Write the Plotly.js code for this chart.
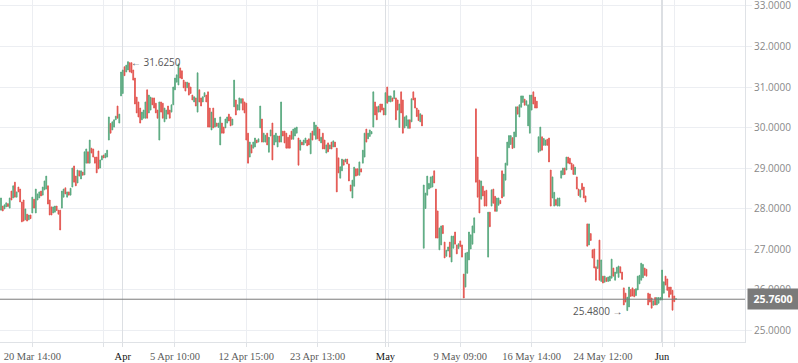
<!DOCTYPE html>
<html>
<head>
<meta charset="utf-8">
<script src="https://cdn.plot.ly/plotly-3.0.1.min.js"></script>
<style>html,body{margin:0;padding:0;background:#fff;}#chart{width:798px;height:363px;}</style>
</head>
<body>
<div id="chart"></div>
<script>
// Open / close of each bar (oldest first)
const openPrices = [
27.96,28.06,27.99,28.04,28.12,28.01,28.43,28.26,28.65,28.28,28.53,28.48,28.16,28.21,27.72,27.86,27.72,27.84,27.89,28.23,
27.89,28.21,28.26,28.43,28.33,28.46,28.48,28.56,28.21,28.04,27.89,27.91,28.06,27.96,27.96,28.01,28.28,28.51,28.28,28.41,
28.33,28.53,29.05,28.80,28.63,28.93,28.73,28.90,28.83,29.12,29.40,29.12,29.49,29.47,29.27,29.27,29.42,29.00,29.20,29.32,
29.25,29.27,
29.69,30.10,29.94,30.01,30.19,30.53,30.11,30.78,30.84,31.50,31.37,31.42,31.60,31.60,31.42,31.22,30.75,30.63,30.48,30.19,
30.23,30.23,30.93,30.36,30.43,30.73,30.73,30.60,30.43,29.69,30.63,30.60,30.14,30.21,30.53,30.43,30.38,30.56,30.93,31.12,
31.05,31.47,31.40,31.17,31.12,30.98,31.10,31.00,30.80,30.63,30.73,30.38,30.93,30.73,30.63,30.76,30.80,30.88,30.48,29.94,
30.48,30.01,30.11,30.00,29.57,30.11,30.01,29.99,30.11,30.33,30.26,30.06,
30.51,30.68,30.43,30.43,30.60,30.71,30.63,30.60,29.86,29.27,29.57,29.49,29.52,29.69,29.64,29.99,30.21,29.64,29.64,29.86,
29.39,29.79,30.11,29.57,29.64,29.52,29.79,29.64,29.91,29.91,29.86,29.76,29.81,29.91,29.71,29.79,29.86,29.74,29.44,29.64,
29.57,29.62,29.69,29.72,29.35,29.91,29.81,29.71,30.01,29.96,29.62,29.86,29.69,29.37,29.62,29.47,29.64,29.52,29.64,29.49,
29.25,28.75,28.93,29.20,29.15,29.22,29.10,28.58,28.26,28.55,28.98,28.98,28.82,28.98,29.12,
29.27,29.96,29.72,29.78,29.84,30.01,30.63,30.51,30.38,30.58,30.58,30.48,30.31,31.00,30.64,30.63,30.73,30.71,
30.73,30.68,30.00,30.88,30.68,29.99,30.04,29.98,30.19,30.14,30.88,30.73,30.48,30.43,30.14,30.31,
27.02,28.00,28.33,28.48,28.51,28.53,28.93,28.48,27.94,26.98,27.10,27.58,27.17,26.82,26.95,27.17,26.68,27.02,27.42,27.10,27.01,
27.20,27.10,26.38,26.06,26.40,26.73,27.00,27.12,27.40,30.46,29.27,28.70,28.23,28.55,28.43,28.45,26.80,27.91,28.06,28.48,
28.30,27.93,28.08,28.20,28.93,28.30,28.70,29.07,29.50,29.58,29.75,29.50,29.77,30.51,30.26,30.50,30.62,30.70,30.55,30.04,29.86,30.43,
30.88,30.75,30.65,29.39,29.42,29.77,29.56,29.56,29.71,29.74,28.95,28.26,28.06,28.22,28.06,28.06,28.75,28.83,29.00,
28.95,29.27,29.24,29.12,29.08,28.84,28.78,28.48,28.28,28.62,28.53,28.31,27.62,27.10,27.38,26.98,27.00,26.56,26.52,27.22,
26.20,26.33,26.18,26.29,26.20,26.21,26.28,26.53,26.23,26.40,26.30,26.56,26.43,26.04,25.91,25.48,25.57,26.00,26.04,26.00,
25.85,25.99,26.14,26.23,26.29,26.53,26.50,25.91,25.89,25.79,25.61,25.80,25.62,25.66,25.74,25.74,25.91,26.33,26.26,26.06,
26.06,25.98,25.84,25.76
];
const closePrices = [
28.26,27.94,28.09,28.14,28.05,28.26,28.21,28.56,28.28,28.41,28.41,28.16,27.67,27.69,27.99,27.69,27.84,27.75,28.28,28.01,
28.48,28.36,28.41,28.31,28.53,28.68,28.80,28.11,27.84,27.84,28.04,28.06,27.95,27.86,27.47,28.43,28.48,28.36,28.41,28.33,
28.50,29.00,28.65,28.56,28.95,28.80,28.93,28.82,29.40,29.47,29.12,29.69,29.37,29.27,29.12,28.88,28.98,29.20,29.30,29.25,
29.36,29.44,
30.26,29.86,30.14,30.19,30.28,30.23,30.33,31.37,31.42,31.28,31.54,31.625,31.37,31.35,31.17,30.58,30.36,30.26,30.11,30.38,
30.43,30.63,30.23,30.80,30.75,30.56,30.48,30.36,30.23,30.63,30.38,30.23,30.48,30.43,30.33,30.23,30.56,31.00,31.22,31.30,
31.57,31.22,31.20,30.98,30.90,31.12,30.80,30.84,30.68,30.76,30.53,31.35,30.63,30.53,30.76,30.86,30.63,30.01,30.01,30.38,
29.99,30.23,30.03,30.11,30.26,29.86,29.86,30.21,30.26,30.16,30.04,30.21,
31.17,30.31,30.56,30.73,30.71,30.43,30.36,29.69,29.12,29.64,29.37,29.64,29.74,29.62,29.72,30.53,29.64,29.86,29.81,29.57,
29.76,29.94,29.20,29.81,29.86,29.79,29.64,30.63,29.79,29.62,29.49,29.49,29.49,29.71,29.96,29.99,30.01,29.07,29.69,29.57,
29.69,29.74,29.55,29.57,29.86,29.69,30.13,30.06,29.72,29.67,29.76,29.47,29.47,29.57,29.40,29.57,29.47,29.67,29.52,28.41,
28.88,29.03,29.22,29.07,29.22,29.10,28.68,28.43,28.70,29.02,28.80,28.82,29.15,28.90,29.44,
29.86,29.64,29.86,29.94,29.90,30.88,30.31,30.19,30.53,30.38,30.43,30.31,30.86,30.60,30.78,30.78,30.65,30.91,
30.19,30.43,30.58,30.36,29.86,30.26,30.29,30.19,29.98,30.71,30.68,30.48,30.27,30.17,30.34,30.04,
28.58,28.38,28.80,28.62,28.78,28.80,28.63,27.27,27.27,27.52,27.57,27.38,26.78,26.97,27.05,26.80,27.32,27.32,27.12,26.88,27.13,
27.06,26.80,25.79,26.90,26.92,27.42,27.35,27.57,27.77,28.65,28.28,27.89,28.68,28.31,28.06,28.06,27.91,27.55,28.46,28.13,
27.93,28.26,28.26,28.12,28.26,28.85,29.12,29.64,29.80,29.80,29.48,29.89,30.51,30.33,30.56,30.78,30.78,30.55,30.66,30.56,30.80,30.80,
30.58,30.48,30.48,29.77,30.01,29.44,29.73,29.69,29.56,29.15,28.06,28.78,28.40,28.08,28.26,28.26,28.93,29.00,28.84,
29.27,29.12,29.10,28.96,28.84,29.02,28.48,28.32,28.46,28.46,28.26,28.16,27.07,27.62,27.21,26.78,26.53,26.23,26.73,26.23,
26.73,26.16,26.33,26.20,26.31,26.33,26.75,26.33,26.43,26.55,26.58,26.41,26.25,25.62,25.69,25.81,26.06,25.83,25.84,25.82,
26.02,26.33,26.35,26.65,26.62,26.35,26.33,25.62,25.69,25.54,25.72,25.62,25.80,25.80,25.80,26.48,26.19,26.11,25.98,25.81,
25.88,25.49,25.70,25.77
];
const lastPrice = 25.76;
const yTicks = [25, 26, 27, 28, 29, 30, 31, 32, 33];
const gridBars = [18, 59, 100, 141, 182, 223, 264, 305, 346, 387];
const gridLabels = ['20 Mar 14:00', '', '5 Apr 10:00', '12 Apr 15:00', '23 Apr 13:00', '', '9 May 09:00', '16 May 14:00', '24 May 12:00', ''];
const monthBars = [70, 221, 380];
const monthLabels = ['Apr', 'May', 'Jun'];

const N = Math.min(openPrices.length, closePrices.length);
const idx = [], o = [], c = [], h = [], l = [];
for (let i = 0; i < N; i++) {
  idx.push(i); o.push(openPrices[i]); c.push(closePrices[i]);
  h.push(Math.max(openPrices[i], closePrices[i]));
  l.push(Math.min(openPrices[i], closePrices[i]));
}
let hi = 0, lo = 0;
for (let i = 0; i < N; i++) { if (h[i] > h[hi]) hi = i; if (l[i] < l[lo]) lo = i; }

const G = '#55a77c', R = '#e2504b';
const s = 675 / (N - 1);
const xr = [-1 / s, 744 / s];

const trace = {
  type: 'candlestick', x: idx, open: o, high: h, low: l, close: c,
  increasing: {line: {color: G, width: 0.8}, fillcolor: G},
  decreasing: {line: {color: R, width: 0.8}, fillcolor: R},
  whiskerwidth: 0, hoverinfo: 'skip', showlegend: false
};

const layout = {
  width: 798, height: 363,
  margin: {l: 0, r: 53, t: 0, b: 21},
  paper_bgcolor: '#fff', plot_bgcolor: '#fff',
  showlegend: false,
  xaxis: {
    range: xr, rangeslider: {visible: false}, fixedrange: true,
    tickmode: 'array', tickvals: gridBars, ticktext: gridLabels,
    showgrid: true, gridcolor: '#eceef2', gridwidth: 1,
    zeroline: false, showline: true, linecolor: '#dfe2e6',
    ticks: 'outside', ticklen: 4, tickcolor: '#dfe2e6',
    tickfont: {family: 'Liberation Serif, serif', size: 10.5, color: '#5a5a5a'}
  },
  xaxis2: {
    overlaying: 'x', anchor: 'y', side: 'bottom', range: xr, fixedrange: true,
    tickmode: 'array', tickvals: monthBars, ticktext: monthLabels,
    showgrid: true, gridcolor: '#dcdfe3', gridwidth: 1.2,
    zeroline: false, showline: false, ticks: 'outside', ticklen: 4, tickcolor: '#dcdfe3',
    tickfont: {family: 'Liberation Serif, serif', size: 10.5, color: '#111'}
  },
  yaxis: {
    side: 'right', range: [24.704, 33.148], fixedrange: true,
    tickmode: 'array', tickvals: yTicks, ticktext: yTicks.map(v => v.toFixed(4)),
    ticklabeloverflow: 'allow',
    showgrid: true, gridcolor: '#eceef2', zeroline: false,
    showline: true, linecolor: '#dfe2e6', ticks: 'outside', ticklen: 6, tickcolor: '#eceef2',
    tickfont: {family: 'Open Sans, sans-serif', size: 10, color: '#888'}
  },
  shapes: [{
    type: 'line', xref: 'paper', x0: 0, x1: 1, yref: 'y', y0: lastPrice, y1: lastPrice,
    line: {color: '#7a7a7a', width: 1}
  }],
  annotations: [
    {x: 1, xref: 'paper', xanchor: 'left', xshift: 2, y: lastPrice, yref: 'y', yanchor: 'middle',
     text: '<b>' + lastPrice.toFixed(4) + '</b>', showarrow: false, bgcolor: '#7a7a7a',
     font: {family: 'Open Sans, sans-serif', size: 10.5, color: '#fff'}, borderpad: 3, width: 44},
    {x: hi, y: h[hi], xref: 'x', yref: 'y', xanchor: 'left', xshift: 1, yanchor: 'middle',
     text: '\u2190 ' + h[hi].toFixed(4), showarrow: false,
     font: {family: 'Open Sans, sans-serif', size: 10, color: '#555'}},
    {x: lo, y: l[lo], xref: 'x', yref: 'y', xanchor: 'right', xshift: -2, yanchor: 'middle',
     text: l[lo].toFixed(4) + ' \u2192', showarrow: false,
     font: {family: 'Open Sans, sans-serif', size: 10, color: '#555'}}
  ]
};

Plotly.newPlot('chart', [trace, {type: 'scatter', x: [], y: [], xaxis: 'x2', yaxis: 'y', showlegend: false}], layout, {staticPlot: true, displayModeBar: false});
</script>
</body>
</html>
